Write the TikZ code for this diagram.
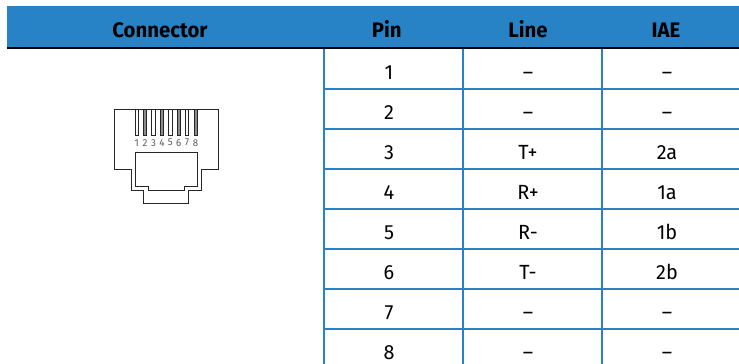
\documentclass[tikz,border=0pt]{standalone}
\usepackage{fontspec}
\setmainfont{Fira Sans}[FakeStretch=0.97]
\usepackage{xcolor}
\usetikzlibrary{positioning}
\definecolor{headblue}{HTML}{2882C6}
\tikzset{
  cell/.style={font=\fontsize{20.5}{24}\selectfont, inner sep=0pt, anchor=base},
  headcell/.style={cell, font=\fontsize{21}{24}\selectfont\bfseries},
  gridline/.style={draw=headblue, line width=2pt},
  jack/.style={draw=black!85, line width=0.9pt, line join=miter},
  pinnum/.style={font=\fontsize{10}{10}\selectfont, text=black!65, inner sep=0pt}
}

\begin{document}
\begin{tikzpicture}[x=1pt,y=-1pt]
\useasboundingbox (0,0) rectangle (739,364);
% header bar
\fill[headblue] (7,6) rectangle (739,47.5);
\draw[line width=1.5pt] (7,48.2) -- (739,48.2);
\node[headcell] (hconn) at (160,37.3) {Connector};
\node[headcell] (hpin) at (386.7,37.3) {Pin};
\node[headcell] (hline) at (528,37.3) {Line};
\node[headcell] (hiae) at (666,37.3) {IAE};
% grid
\foreach \y in {89,129,...,329}
  \draw[gridline] (324,\y) -- (739,\y);
\foreach \x in {324,463,602}
  \draw[gridline] (\x,49) -- (\x,364);
% rows
\foreach \p/\l/\i [count=\r] in {1/\textendash/\textendash, 2/\textendash/\textendash,
    3/T+/2a, 4/R+/1a, 5/R-/1b, 6/T-/2b, 7/\textendash/\textendash, 8/\textendash/\textendash}
{
  \node[cell] (pin\r) at (389,39.3+40*\r) {\p};
  \node[cell] (line\r) at (528,39.3+40*\r) {\l};
  \node[cell] (iae\r) at (667,39.3+40*\r) {\i};
}
% RJ45 jack
\draw[jack] (114,109.3) -- (218.3,109.3) -- (218.3,169) -- (201,169) -- (201,190.7)
  -- (188.3,190.7) -- (188.3,203.3) -- (143.3,203.3) -- (143.3,190.7) -- (131,190.7)
  -- (131,169) -- (114,169) -- cycle;
\draw[jack] (135.7,152.7) -- (197,152.7) -- (197,186) -- (184,186) -- (184,190.7)
  -- (148.3,190.7) -- (148.3,186) -- (135.7,186) -- cycle;
\foreach \n [evaluate=\n as \px using 136.6+8.42*(\n-1)] in {1,...,8}
{
  \ifodd\n \def\pinfill{white}\else \def\pinfill{black!45}\fi
  \draw[jack, line width=0.7pt, fill=\pinfill] (\px-1.6,109.3) rectangle (\px+1.6,135);
  \node[pinnum] (num\n) at (\px,142.7) {\n};
}
\end{tikzpicture}
\end{document}
